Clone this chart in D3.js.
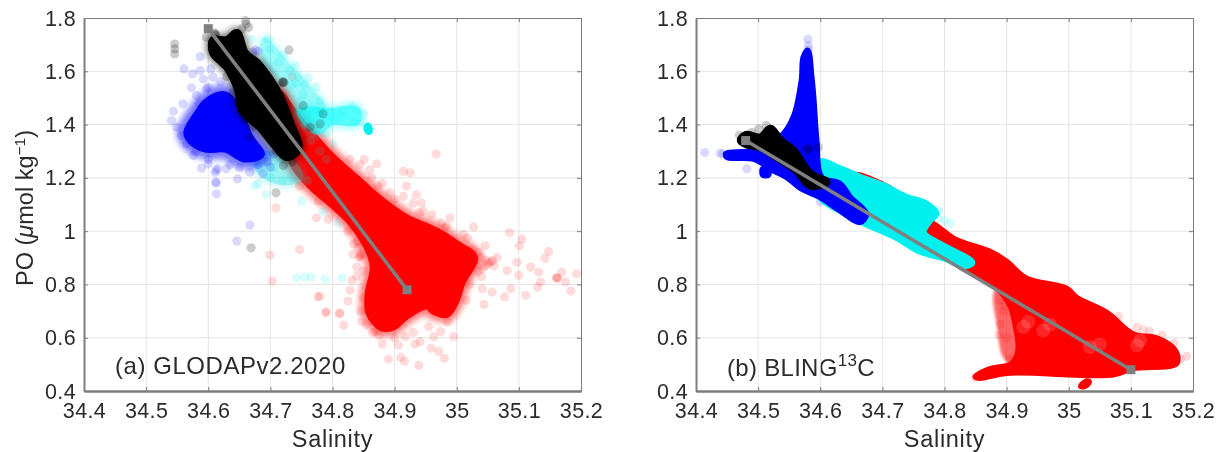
<!DOCTYPE html>
<html><head><meta charset="utf-8"><script src="https://cdn.jsdelivr.net/npm/d3@7"></script>
<style>html,body{margin:0;background:#fff}svg{display:block}text{font-family:"Liberation Sans",sans-serif;fill:#2b2b2b}</style></head><body><svg id="c" width="1222" height="452"></svg>
<script>
const salinityTicks=[34.4,34.5,34.6,34.7,34.8,34.9,35,35.1,35.2];
const salinityLabels=["34.4","34.5","34.6","34.7","34.8","34.9","35","35.1","35.2"];
const poTicks=[0.4,0.6,0.8,1,1.2,1.4,1.6,1.8];
const poLabels=["0.4","0.6","0.8","1","1.2","1.4","1.6","1.8"];
// Panel (a): outlines of saturated clouds
const aRedCore=[[34.716,1.518],[34.737,1.455],[34.764,1.38],[34.796,1.293],[34.844,1.192],[34.881,1.117],[34.92,1.053],[34.968,1.004],[35.001,.955],[35.03,.903],[35.01,.805],[35.001,.741],[34.985,.685],[34.962,.696],[34.952,.715],[34.92,.678],[34.898,.636],[34.877,.636],[34.857,.693],[34.856,.768],[34.864,.865],[34.856,.929],[34.828,1.03],[34.801,1.091],[34.764,1.166],[34.737,1.241],[34.724,1.342]];
const aBlueCore=[[34.564,1.372],[34.579,1.436],[34.598,1.492],[34.627,1.515],[34.651,1.455],[34.667,1.361],[34.687,1.286],[34.659,1.267],[34.627,1.304],[34.595,1.304],[34.571,1.335]];
const aBlackCore=[[34.646,1.744],[34.659,1.669],[34.679,1.631],[34.7,1.567],[34.716,1.503],[34.732,1.406],[34.745,1.312],[34.727,1.278],[34.704,1.331],[34.683,1.391],[34.654,1.455],[34.648,1.53],[34.63,1.616],[34.608,1.669],[34.608,1.717],[34.63,1.717]];
const aCyanCore=[[34.76,1.46],[34.795,1.455],[34.84,1.46],[34.84,1.405],[34.8,1.405],[34.775,1.37],[34.745,1.45]];
const aCyanBand=[[34.69,1.72],[34.73,1.62],[34.765,1.53],[34.785,1.46],[34.76,1.41],[34.725,1.55],[34.69,1.65]];
const aCyanLower=[[34.69,1.29],[34.73,1.27],[34.75,1.2],[34.72,1.18],[34.68,1.23]];
const aCyanPatch=[[34.857,1.4],[34.861,1.39],[34.861,1.37],[34.856,1.37],[34.853,1.39]];
// Panel (a): individual scattered samples
const aRedPts=[[35.085,.995],[35.105,.97],[35.101,.945],[35.148,.924],[35.142,.898],[35.119,.865],[35.097,.883],[35.081,.852],[35.1,.834],[35.132,.846],[35.135,.809],[35.13,.79],[35.161,.825],[35.161,.825],[35.162,.822],[35.169,.846],[35.193,.84],[35.175,.809],[35.184,.775],[35.111,.759],[35.087,.784],[35.077,.753],[35.044,.725],[35.057,.771],[35.041,.784],[35.027,1.016],[35.052,.883],[35.055,.885],[35.05,.875],[35.058,.89],[35.047,.89],[35.06,.87],[35.045,.87],[35.04,.9],[35.042,.86],[35.035,.85],[35.03,.88],[35.035,.92],[35.025,.93],[35.065,.902],[35.046,.945],[35.017,.975],[34.984,1.02],[34.995,.604],[34.98,.523],[34.971,.548],[34.959,.56],[34.939,.496],[34.916,.511],[34.91,.527],[34.89,.52],[34.88,.576],[34.906,.573],[34.933,.576],[34.941,.585],[34.917,.604],[34.963,.604],[34.955,.641],[34.974,.622],[34.87,.622],[34.875,.61],[34.818,.647],[34.847,.66],[34.812,.693],[34.79,.697],[34.779,.755],[34.828,.778],[34.831,.815],[34.839,.865],[34.845,.914],[34.848,.91],[34.843,.905],[34.834,.952],[34.967,1.29],[34.871,1.2525],[34.851,1.269],[34.844,1.25],[34.828,1.269],[34.863,1.2],[34.873,1.169],[34.914,1.225],[34.925,1.219],[34.919,1.169],[34.892,1.144],[34.914,1.131],[34.935,1.1375],[34.943,1.106],[34.93,1.106],[34.946,1.075],[34.96,1.0625],[34.989,1.05],[34.981,1.0125],[35.011,.9875],[34.699,.91],[34.747,.931],[34.703,.8125],[34.777,.754],[34.789,.694],[34.811,.69],[34.825,.7375],[34.839,.831],[34.833,.9125],[34.844,.9],[34.841,.9375],[34.825,1],[34.793,1.044],[34.774,1.05],[34.777,1.1125],[34.747,1.169],[34.709,1.0875],[34.735,1.58],[34.85,.75],[34.845,.7],[34.855,.65],[34.865,.62],[34.9,.6],[34.93,.62],[34.985,.66],[35.015,.74],[35.02,.8],[35.04,.83],[34.86,1.23],[34.88,1.18],[34.9,1.12],[34.94,1.07],[34.975,1.03],[34.84,.96],[34.85,.85],[34.83,1.05],[34.8,1.13],[34.76,1.21],[34.74,1.27]];
const aCyanPts=[[34.67,1.72],[34.697,1.72],[34.699,1.684],[34.713,1.634],[34.731,1.603],[34.742,1.553],[34.761,1.578],[34.774,1.54],[34.753,1.515],[34.78,1.49],[34.774,1.4525],[34.796,1.446],[34.817,1.4525],[34.839,1.45],[34.836,1.415],[34.806,1.415],[34.79,1.415],[34.772,1.378],[34.79,1.365],[34.801,1.328],[34.694,1.29],[34.705,1.24],[34.68,1.178],[34.672,1.2525],[34.72,1.19],[34.742,.825],[34.755,.8275],[34.766,.8275],[34.788,.819],[34.815,.825],[34.75,1.1125],[34.693,1.1375],[34.675,1.169],[34.785,1.0725],[34.809,1.031],[34.72,1.66],[34.74,1.62],[34.745,1.58],[34.755,1.55],[34.735,1.55],[34.75,1.49],[34.76,1.44],[34.755,1.4],[34.765,1.34],[34.78,1.3],[34.79,1.27],[34.7,1.2],[34.715,1.27],[34.735,1.2],[34.76,1.19],[34.85,1.44],[34.85,1.41],[34.83,1.47],[34.81,1.44],[34.78,1.44],[34.8,1.43],[34.82,1.43]];
const aBluePts=[[34.587,1.655],[34.561,1.609],[34.575,1.59],[34.587,1.603],[34.604,1.609],[34.592,1.571],[34.573,1.538],[34.581,1.509],[34.597,1.534],[34.608,1.578],[34.559,1.478],[34.544,1.45],[34.541,1.415],[34.549,1.39],[34.557,1.359],[34.565,1.328],[34.576,1.284],[34.589,1.236],[34.6,1.252],[34.613,1.228],[34.615,1.235],[34.611,1.22],[34.612,1.184],[34.613,1.18],[34.613,1.14],[34.629,1.234],[34.647,1.196],[34.667,1.221],[34.688,1.215],[34.667,1.023],[34.646,.963],[34.676,1.68],[34.68,1.675],[34.672,1.672],[34.59,1.45],[34.6,1.54],[34.585,1.48],[34.62,1.56],[34.635,1.25],[34.65,1.24],[34.6,1.27],[34.58,1.3],[34.695,1.26],[34.705,1.29],[34.7,1.24],[34.68,1.25]];
const aBlackPts=[[34.546,1.7025],[34.546,1.684],[34.546,1.665],[34.73,1.68],[34.721,1.559],[34.722,1.558],[34.72,1.561],[34.719,1.557],[34.661,1.7775],[34.654,1.759],[34.665,1.765],[34.66,1.79],[34.597,1.7275],[34.611,1.74],[34.612,1.735],[34.61,1.743],[34.608,1.6775],[34.606,1.68],[34.627,1.709],[34.624,1.6275],[34.753,1.471],[34.785,1.44],[34.764,1.39],[34.78,1.4025],[34.721,1.246],[34.726,1.2775],[34.667,1.3525],[34.669,.9375],[34.709,1.144],[34.64,1.58],[34.63,1.58],[34.64,1.52],[34.66,1.42],[34.67,1.39],[34.71,1.3],[34.735,1.26]];
const aMixing=[[34.6,1.76],[34.92,.78]];
// Panel (b)
const bRedCore=[[34.774,1.035],[34.819,.969],[34.873,.925],[34.9,.888],[34.932,.824],[34.997,.786],[35.013,.752],[35.061,.696],[35.104,.615],[35.142,.6],[35.172,.553],[35.174,.503],[35.104,.484],[35.072,.46],[34.9,.466],[34.857,.447],[34.849,.453],[34.873,.484],[34.908,.503],[34.918,.553],[34.915,.63],[34.905,.72],[34.885,.783],[34.819,.876],[34.76,1.006]];
const bRedFringe=[[34.885,.78],[34.888,.64],[34.9,.52],[34.93,.5],[34.93,.77]];
const bRedSliver=[[34.655,1.215],[34.7,1.18],[34.72,1.15],[34.65,1.19]];
const bRedSpot=[[35.018,.418],[35.028,.44],[35.034,.436],[35.03,.42],[35.022,.413]];
const bRedGaps=[[34.927,.64],[34.935,.66],[34.959,.627],[34.97,.65],[35.034,.565],[35.05,.575],[35.11,.571],[35.115,.59],[35.12,.64]];
const bCyanCore=[[34.6,1.259],[34.626,1.24],[34.664,1.2025],[34.701,1.171],[34.738,1.1275],[34.77,1.1025],[34.786,1.065],[34.776,1.04],[34.766,.994],[34.798,.944],[34.835,.9],[34.844,.882],[34.833,.87],[34.798,.9],[34.76,.925],[34.722,.9775],[34.674,1.0275],[34.632,1.0775],[34.6,1.13]];
const bBlueCore=[[34.58,1.6775],[34.586,1.5775],[34.589,1.5025],[34.594,1.34],[34.602,1.2025],[34.632,1.1775],[34.648,1.1275],[34.674,1.065],[34.664,1.034],[34.632,1.0775],[34.6,1.1275],[34.57,1.159],[34.546,1.2025],[34.525,1.2275],[34.493,1.271],[34.45,1.2775],[34.448,1.29],[34.493,1.3025],[34.536,1.3525],[34.557,1.4275],[34.57,1.565],[34.573,1.6525]];
const bBlueSpot=[[34.507,1.235],[34.517,1.235],[34.517,1.21],[34.507,1.21]];
const bBlackCore=[[34.472,1.34],[34.48,1.361],[34.504,1.3525],[34.52,1.384],[34.536,1.34],[34.557,1.3025],[34.584,1.215],[34.61,1.184],[34.584,1.171],[34.562,1.2275],[34.53,1.2775],[34.504,1.315],[34.482,1.325]];
const bRedPts=[[34.895,.7],[34.89,.65],[34.888,.61],[34.9,.6],[34.905,.52],[34.91,.51],[34.92,.51],[34.85,.45],[35.11,.64],[35.12,.63],[35.13,.625],[35.18,.52],[35.19,.53],[35.17,.58],[35.15,.61],[35.08,.68],[34.89,.74],[34.895,.72]];
const bCyanPts=[[34.79,1.05],[34.8,1.04],[34.81,1.03],[34.79,1.08],[34.775,1.09]];
const bBluePts=[[34.414,1.295],[34.439,1.2925],[34.443,1.29],[34.482,1.234],[34.58,1.72],[34.581,1.696],[34.581,1.68],[34.613,1.115],[34.6,1.11]];
const bBlackPts=[[34.513,1.396],[34.501,1.384],[34.597,1.315],[34.581,1.306],[34.58,1.31],[34.47,1.36],[34.49,1.37],[34.54,1.33],[34.53,1.35]];
const bMixing=[[34.48,1.34],[35.1,.48]];

const svg=d3.select("#c");
const gridC="#e4e4e4",axisC="#7d7d7d",lineC="#808080";
const line=(x,y)=>d3.line().x(d=>x(d[0])).y(d=>y(d[1]));
function core(g,x,y,pts,color,halo,sw=4){
  const p=line(x,y).curve(d3.curveCatmullRomClosed.alpha(0.5))(pts);
  if(halo){g.append("path").attr("d",p).attr("fill",color).attr("stroke",color).attr("stroke-width",halo).attr("stroke-linejoin","round").attr("opacity",.55).style("filter","blur(3px)");}
  g.append("path").attr("d",p).attr("fill",color).attr("stroke",color).attr("stroke-width",sw).attr("stroke-linejoin","round");
}
function dots(g,x,y,pts,color,o,r=4.6){
  g.append("g").selectAll("circle").data(pts).join("circle").attr("cx",d=>x(d[0])).attr("cy",d=>y(d[1])).attr("r",r).attr("fill",color).attr("opacity",o);
}
function panel(left,right){
  const x=d3.scaleLinear().domain([34.4,35.2]).range([left,right]);
  const y=d3.scaleLinear().domain([0.4,1.8]).range([391,18]);
  const root=svg.append("g");
  const grid=root.append("g").attr("stroke",gridC).attr("stroke-width",1);
  salinityTicks.slice(1,-1).forEach(t=>grid.append("line").attr("x1",x(t)).attr("x2",x(t)).attr("y1",18).attr("y2",391));
  poTicks.slice(1,-1).forEach(t=>grid.append("line").attr("y1",y(t)).attr("y2",y(t)).attr("x1",left).attr("x2",right));
  const marks=root.append("g").style("filter","blur(0.6px)");
  return {x,y,root,marks};
}
function frame(P){
  const {x,y}=P;
  const root=P.root.append("g").style("filter","blur(0.3px)");
  const fmtX=d=>salinityLabels[salinityTicks.indexOf(d)], fmtY=d=>poLabels[poTicks.indexOf(d)];
  const deco=(g,w)=>{g.select(".domain").attr("stroke",axisC).attr("stroke-width",w?2:1);g.selectAll(".tick line").attr("stroke",axisC);g.selectAll("text").attr("font-size",21.5).attr("font-family","Liberation Sans").attr("fill","#303030").style("letter-spacing","0.4px");};
  root.append("g").attr("transform","translate(0,18)").call(d3.axisBottom(x).tickValues(salinityTicks).tickSize(4).tickSizeOuter(0).tickFormat("")).call(g=>deco(g,false));
  root.append("g").attr("transform",`translate(${x.range()[1]},0)`).call(d3.axisLeft(y).tickValues(poTicks).tickSize(4).tickSizeOuter(0).tickFormat("")).call(g=>deco(g,false));
  root.append("g").attr("transform","translate(0,391)").call(d3.axisTop(x).tickValues(salinityTicks).tickSize(4).tickSizeOuter(0).tickFormat("")).call(g=>deco(g,true));
  const xl=root.append("g").attr("transform","translate(0,391)").call(d3.axisBottom(x).tickValues(salinityTicks).tickSize(0).tickPadding(10).tickFormat(fmtX)).call(g=>deco(g,true));
  xl.selectAll("text").attr("dy",null).attr("y",27);
  root.append("g").attr("transform",`translate(${x.range()[0]},0)`).call(d3.axisRight(y).tickValues(poTicks).tickSize(4).tickSizeOuter(0).tickFormat("")).call(g=>deco(g,true));
  const yt=root.append("g").attr("transform",`translate(${x.range()[0]},0)`).call(d3.axisLeft(y).tickValues(poTicks).tickSize(0).tickPadding(8).tickFormat(fmtY)).call(g=>deco(g,true));
  yt.select(".domain").remove();
  yt.selectAll("text").attr("dy","0.33em");
  root.append("text").attr("x",(x.range()[0]+x.range()[1])/2).attr("y",447).attr("text-anchor","middle").attr("font-size",23.5).style("letter-spacing","0.7px").text("Salinity");
}
function mixing(P,m){
  const {x,y,marks}=P;
  marks.append("path").attr("d",line(x,y)(m)).attr("fill","none").attr("stroke",lineC).attr("stroke-width",3.6);
  marks.selectAll("rect.e").data(m).join("rect").attr("class","e").attr("x",d=>x(d[0])-4.5).attr("y",d=>y(d[1])-4.5).attr("width",9).attr("height",9).attr("fill",lineC);
}
// (a)
const A=panel(84,581);
{const {x,y,marks:g}=A;
 dots(g,x,y,aRedPts,"#f00",.14); core(g,x,y,aRedCore,"#f00",14,5);
 dots(g,x,y,aCyanPts,"#00e8e8",.15);
 const cc=g.append("g").attr("opacity",.65); core(cc,x,y,aCyanCore,"#00ffff",10);
 const cb=g.append("g").attr("opacity",.4); core(cb,x,y,aCyanBand,"#00f0f0",10); core(cb,x,y,aCyanLower,"#00e0e0",10);
 core(g,x,y,aCyanPatch,"#00f0f0",false);
 dots(g,x,y,aBluePts,"#00f",.15); core(g,x,y,aBlueCore,"#00f",18,5);
 dots(g,x,y,aBlackPts,"#000",.2); core(g,x,y,aBlackCore,"#000",12,8);
 mixing(A,aMixing);}
frame(A);
const labels=svg.append("g").style("filter","blur(0.3px)");
labels.append("text").attr("x",115).attr("y",374).attr("font-size",24).style("letter-spacing","0.55px").text("(a) GLODAPv2.2020");
labels.append("text").attr("transform","translate(33,208) rotate(-90)").attr("text-anchor","middle").attr("font-size",23.5)
 .call(t=>{t.append("tspan").text("PO (");t.append("tspan").attr("font-style","italic").text("μ");t.append("tspan").text("mol kg");t.append("tspan").attr("dy",-8).attr("font-size",15.5).text("−1");t.append("tspan").attr("dy",8).text(")");});
// (b)
const B=panel(696,1193);
{const {x,y,marks:g}=B;
 dots(g,x,y,bRedPts,"#f00",.15);
 const rf=g.append("g").attr("opacity",.6).style("filter","blur(1.5px)"); core(rf,x,y,bRedFringe,"#f00",false,4);
 core(g,x,y,bRedCore,"#f00",false,5); core(g,x,y,bRedSliver,"#f00",false); core(g,x,y,bRedSpot,"#f00",false);
 dots(g,x,y,bRedGaps,"#fff",.14,7);
 dots(g,x,y,bCyanPts,"#00e8e8",.15); core(g,x,y,bCyanCore,"#00f0f0",false,7);
 dots(g,x,y,bBluePts,"#00f",.15); core(g,x,y,bBlueCore,"#00f",false,6); core(g,x,y,bBlueSpot,"#00f",false,5);
 dots(g,x,y,bBlackPts,"#000",.2); core(g,x,y,bBlackCore,"#000",false,8);
 mixing(B,bMixing);}
frame(B);
labels.append("text").attr("x",727).attr("y",376).attr("font-size",24).style("letter-spacing","0.3px").call(t=>{t.append("tspan").text("(b) BLING");t.append("tspan").attr("dy",-10).attr("font-size",17).text("13");t.append("tspan").attr("dy",10).text("C");});
</script></body></html>
